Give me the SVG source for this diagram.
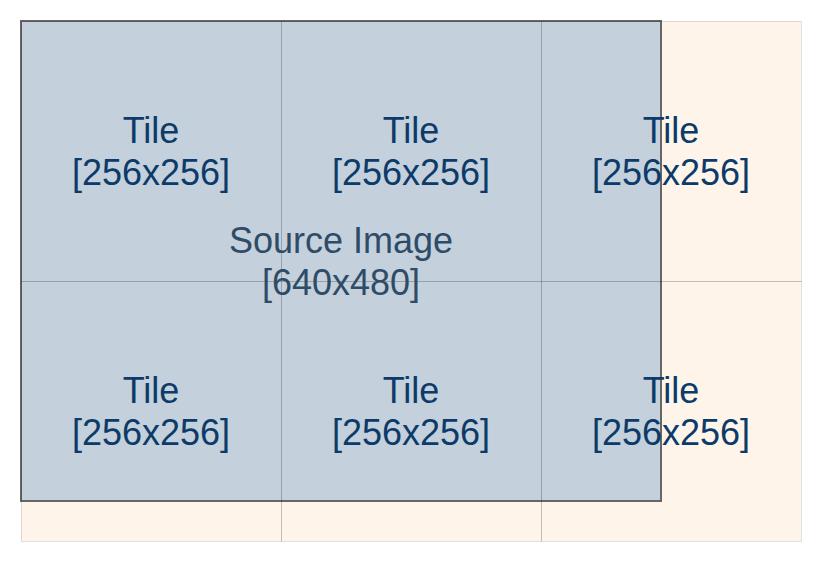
<svg xmlns="http://www.w3.org/2000/svg" width="827" height="562" viewBox="0 0 827 562">
  <style>
    .tile { fill: none; stroke: #000; stroke-opacity: 0.12; stroke-width: 1; }
    .tlabel { font-family: "Liberation Sans", Arial, sans-serif; font-size: 36px; fill: #0c3a69; text-anchor: middle; }
    .slabel { font-family: "Liberation Sans", Arial, sans-serif; font-size: 36px; fill: #2e4b67; text-anchor: middle; }
  </style>
  <rect width="827" height="562" fill="#ffffff"/>
  <g id="tile-background">
    <rect x="21" y="21" width="780" height="520" fill="#fef4ea"/>
  </g>
  <g id="source-image">
    <rect x="21" y="21" width="640" height="480" fill="#c4d0db" stroke="#666666" stroke-width="2"/>
  </g>
  <g id="tile-0-0">
    <rect class="tile" x="21.5" y="21.5" width="260" height="260"/>
    <text class="tlabel" x="151" y="143">Tile</text>
    <text class="tlabel" x="151" y="185">[256x256]</text>
  </g>
  <g id="tile-1-0">
    <rect class="tile" x="281.5" y="21.5" width="260" height="260"/>
    <text class="tlabel" x="411" y="143">Tile</text>
    <text class="tlabel" x="411" y="185">[256x256]</text>
  </g>
  <g id="tile-2-0">
    <rect class="tile" x="541.5" y="21.5" width="260" height="260"/>
    <text class="tlabel" x="671" y="143">Tile</text>
    <text class="tlabel" x="671" y="185">[256x256]</text>
  </g>
  <g id="tile-0-1">
    <rect class="tile" x="21.5" y="281.5" width="260" height="260"/>
    <text class="tlabel" x="151" y="403">Tile</text>
    <text class="tlabel" x="151" y="445">[256x256]</text>
  </g>
  <g id="tile-1-1">
    <rect class="tile" x="281.5" y="281.5" width="260" height="260"/>
    <text class="tlabel" x="411" y="403">Tile</text>
    <text class="tlabel" x="411" y="445">[256x256]</text>
  </g>
  <g id="tile-2-1">
    <rect class="tile" x="541.5" y="281.5" width="260" height="260"/>
    <text class="tlabel" x="671" y="403">Tile</text>
    <text class="tlabel" x="671" y="445">[256x256]</text>
  </g>
  <g id="source-label">
    <text class="slabel" x="341" y="253">Source Image</text>
    <text class="slabel" x="341" y="295">[640x480]</text>
  </g>
  <g id="connectors"></g>
</svg>
